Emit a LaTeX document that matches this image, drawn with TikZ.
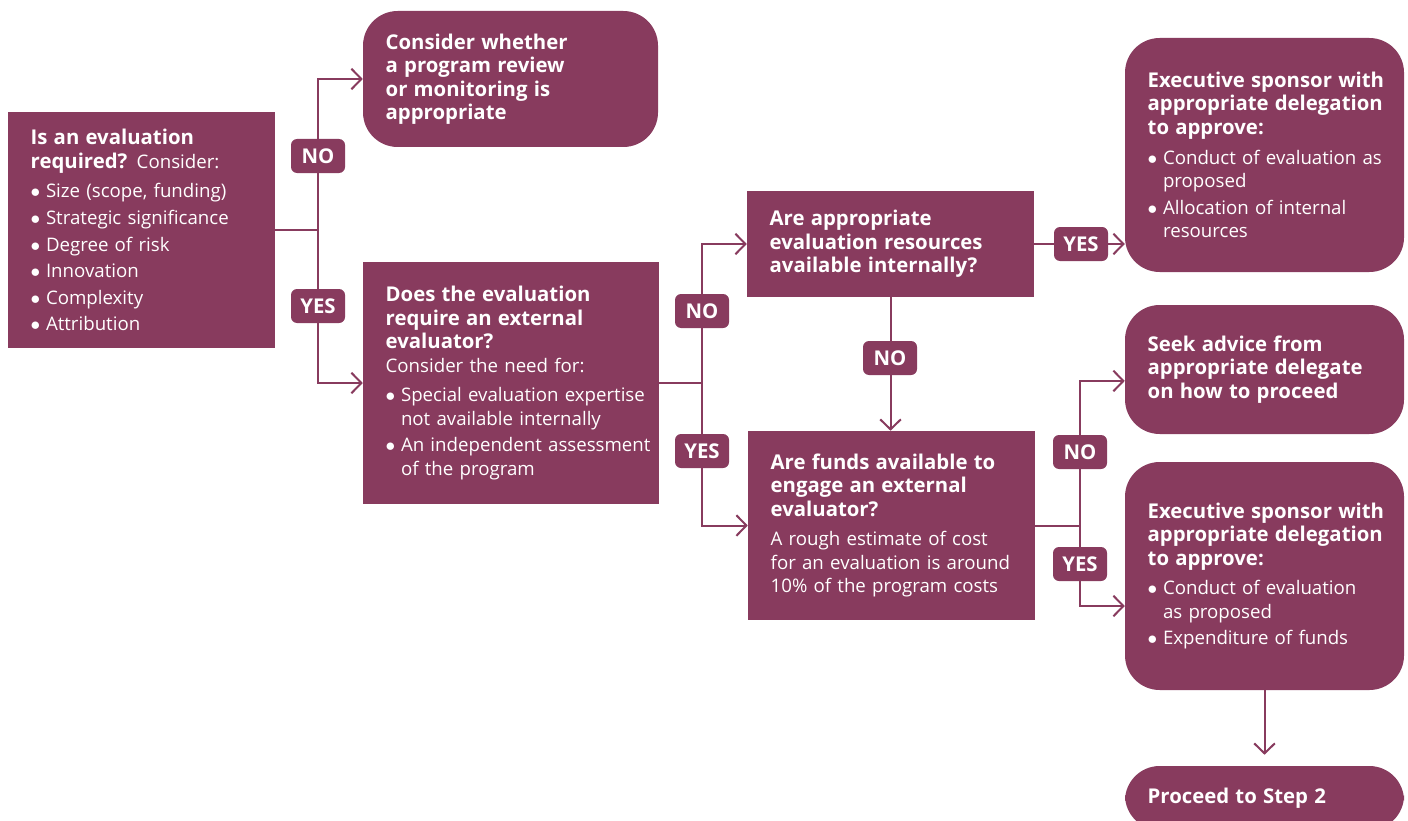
\documentclass[tikz,border=0pt]{standalone}
\usepackage{fontspec}
\setmainfont{Open Sans}[BoldFeatures={Scale=1.09}]
\usepackage{tikz}
\usetikzlibrary{arrows.meta, positioning}
\definecolor{ciruela}{RGB}{136, 59, 94}
\newcommand{\itm}[1]{\par\vspace{2.3pt}\hangindent=11.5pt\hangafter=1\noindent\makebox[11.5pt][l]{$\bullet$}#1\par}
\tikzset{
    box/.style={rectangle, fill=ciruela, text=white, align=left, inner xsep=4pt, inner ysep=4pt,
                font=\fontsize{14pt}{17.6pt}\selectfont, execute at begin node={\leftskip=13pt}},
    rbox/.style={box, rounded corners=26pt},
    tag/.style={rectangle, rounded corners=4.5pt, fill=ciruela, text=white, inner sep=0pt,
                minimum width=40.5pt, minimum height=25.5pt, font=\fontsize{14pt}{16pt}\selectfont\bfseries},
    conn/.style={-, draw=ciruela, line width=1.5pt},
    arr/.style={conn, -{Straight Barb[length=7.5pt, width=15.5pt, line width=1.5pt]}},
}
\begin{document}
\begin{tikzpicture}[x=0.75pt, y=-0.75pt]
    \useasboundingbox (0,0) rectangle (1408,820);

    \node[box, text width=192.25pt, minimum height=177pt] (qA) at (141.5,230)
        {\textbf{Is an evaluation\newline required?} Consider:\par\vspace{2.5pt}
         \itm{Size (scope, funding)}\itm{Strategic significance}\itm{Degree of risk}
         \itm{Innovation}\itm{Complexity}\itm{Attribution}};
    \node[rbox, text width=213.25pt, minimum height=102pt] (revB) at (510.5,79)
        {\textbf{Consider whether\newline a program review\newline or monitoring is\newline appropriate}};
    \node[box, text width=214pt, minimum height=181.5pt] (extC) at (511,383)
        {\textbf{Does the evaluation\newline require an external\newline evaluator?}\newline Consider the need for:\par\vspace{2.5pt}
         \itm{Special evaluation expertise\newline not available internally}
         \itm{An independent assessment\newline of the program}};
    \node[box, text width=207.25pt, minimum height=79.5pt] (resD) at (890.5,244)
        {\textbf{Are appropriate\newline evaluation resources\newline available internally?}};
    \node[box, text width=207.25pt, minimum height=141.75pt] (fundE) at (891.5,525.5)
        {\textbf{Are funds available to\newline engage an external\newline evaluator?}\par\vspace{4.8pt}
         A rough estimate of cost\newline for an evaluation is around\newline 10\% of the program costs};
    \node[rbox, text width=201.25pt, minimum height=175.5pt] (sponsF) at (1264.5,155)
        {\textbf{Executive sponsor with\newline appropriate delegation\newline to approve:}\par\vspace{2.5pt}
         \itm{Conduct of evaluation as\newline proposed}\itm{Allocation of internal\newline resources}};
    \node[rbox, text width=201.25pt, minimum height=96.75pt] (seekG) at (1264.5,369.5)
        {\textbf{Seek advice from\newline appropriate delegate\newline on how to proceed}};
    \node[rbox, text width=201.25pt, minimum height=171pt] (sponsH) at (1264.5,576)
        {\textbf{Executive sponsor with\newline appropriate delegation\newline to approve:}\par\vspace{2.5pt}
         \itm{Conduct of evaluation\newline as proposed}\itm{Expenditure of funds}};
    \node[rbox, text width=201.25pt, minimum height=48pt] (stepI) at (1264.5,798)
        {\textbf{Proceed to Step 2}};

    \path (qA.east) ++(43,0) coordinate (jA);
    \path (extC.east) ++(43,0) coordinate (jC);
    \path (fundE.east) ++(45,0) coordinate (jE);

    \draw[arr] (qA.east) -- (jA) |- (revB.west);
    \draw[arr] (jA) |- (extC.west);
    \draw[arr] (extC.east) -- (jC) |- (resD.west);
    \draw[arr] (jC) |- (fundE.west);
    \draw[arr] (resD.east) -- (resD.east -| sponsF.west);
    \draw[arr] (resD.south) -- (resD.south |- fundE.north);
    \draw[arr] (fundE.east) -- (jE) |- ([yshift=-8.6pt]seekG.west);
    \draw[arr] (jE) |- ([yshift=-22.5pt]sponsH.west);
    \draw[arr, shorten >=8.25pt] (sponsH.south) -- (stepI.north);

    \node[tag] (noA) at (318,156) {NO};
    \node[tag] (yesA) at (318,306) {YES};
    \node[tag] (noC) at (702,311) {NO};
    \node[tag] (yesC) at (702,451) {YES};
    \node[tag] (yesD) at (1081,244) {YES};
    \node[tag] (noD) at (890,358) {NO};
    \node[tag] (noE) at (1080,452) {NO};
    \node[tag] (yesE) at (1080,564) {YES};
\end{tikzpicture}
\end{document}
